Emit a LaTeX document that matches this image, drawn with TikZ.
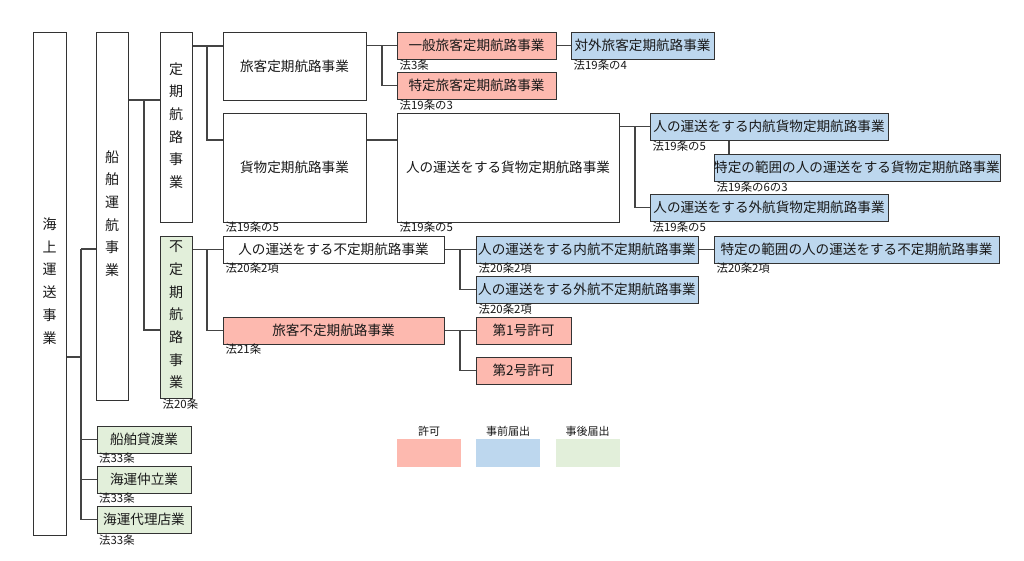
\documentclass[tikz,border=0pt]{standalone}
\usepackage{fontspec}
\setmainfont{Noto Sans CJK JP}
\definecolor{kyoka}{HTML}{FDB9AF}
\definecolor{jizen}{HTML}{BDD7EE}
\definecolor{jigo}{HTML}{E2EFDA}
\definecolor{edge}{HTML}{333333}
\definecolor{wire}{HTML}{444444}
\begin{document}
\begin{tikzpicture}[x=1pt,y=-1pt,
  box/.style={draw=edge,line width=1pt,fill=white,inner sep=0pt,font=\fontsize{13.6}{16}\selectfont,text=black!90},
  bx/.style 2 args={box,minimum width=#1pt,minimum height=#2pt},
  vtext/.style={inner sep=0pt,align=center,font=\fontsize{14}{22.7}\selectfont,text=black!90},
  law/.style={anchor=west,inner sep=0pt,font=\fontsize{11.4}{12}\selectfont,text=black!90},
  conn/.style={draw=wire,line width=1.2pt},
  leg/.style={inner sep=0pt,font=\fontsize{11}{12}\selectfont,text=black!90}]
\useasboundingbox[fill=white] (0,0) rectangle (1024,560);

% left column boxes
\node[bx={33}{503}] (kaijo) at (49.5,283.5) {};
\node[vtext] (kaijoT) at (49.5,281) {海\\上\\運\\送\\事\\業};
\node[bx={32}{368}] (senpaku) at (112,216) {};
\node[vtext] (senpakuT) at (112,213.5) {船\\舶\\運\\航\\事\\業};
\node[bx={32}{190}] (teiki) at (176,127) {};
\node[vtext] (teikiT) at (176,125.5) {定\\期\\航\\路\\事\\業};
\node[bx={32}{162},fill=jigo] (futeiki) at (176,317) {};
\node[vtext] (futeikiT) at (176,315) {不\\定\\期\\航\\路\\事\\業};
\node[law] (lFuteiki) at (162.5,404) {法20条};

% regular routes
\node[bx={143}{68}] (ryokaku) at (294.5,66) {旅客定期航路事業};
\node[bx={143}{109}] (kamotsu) at (294.5,167.5) {貨物定期航路事業};
\node[law] (lKamotsu) at (225.5,227) {法19条の5};
\node[bx={159}{27},fill=kyoka] (ippan) at (476.5,45.5) {一般旅客定期航路事業};
\node[law] (lIppan) at (399.5,65) {法3条};
\node[bx={159}{27},fill=kyoka] (tokR) at (476.5,85.5) {特定旅客定期航路事業};
\node[law] (lTokR) at (399.5,105) {法19条の3};
\node[bx={143}{27},fill=jizen] (taigai) at (642.5,45.5) {対外旅客定期航路事業};
\node[law] (lTaigai) at (573.5,65) {法19条の4};
\node[bx={222}{109}] (hitoK) at (508,167.5) {人の運送をする貨物定期航路事業};
\node[law] (lHitoK) at (399.5,227) {法19条の5};
\node[bx={238}{27},fill=jizen] (naikoK) at (769,126.5) {人の運送をする内航貨物定期航路事業};
\node[law] (lNaikoK) at (652.5,146) {法19条の5};
\node[bx={286}{27},fill=jizen] (tokHK) at (857,167.5) {特定の範囲の人の運送をする貨物定期航路事業};
\node[law] (lTokHK) at (716.5,187) {法19条の6の3};
\node[bx={238}{27},fill=jizen] (gaikoK) at (769,207.5) {人の運送をする外航貨物定期航路事業};
\node[law] (lGaikoK) at (652.5,227) {法19条の5};

% irregular routes
\node[bx={221}{27}] (hitoF) at (333.5,249.5) {人の運送をする不定期航路事業};
\node[law] (lHitoF) at (225.5,268) {法20条2項};
\node[bx={222}{27},fill=jizen] (naikoF) at (587,249.5) {人の運送をする内航不定期航路事業};
\node[law] (lNaikoF) at (478.5,268) {法20条2項};
\node[bx={285}{27},fill=jizen] (tokHF) at (856.5,249.5) {特定の範囲の人の運送をする不定期航路事業};
\node[law] (lTokHF) at (716.5,268) {法20条2項};
\node[bx={222}{27},fill=jizen] (gaikoF) at (587,289.5) {人の運送をする外航不定期航路事業};
\node[law] (lGaikoF) at (478.5,309) {法20条2項};
\node[bx={221}{27},fill=kyoka] (ryoF) at (333.5,330.5) {旅客不定期航路事業};
\node[law] (lRyoF) at (225.5,349) {法21条};
\node[bx={95}{27},fill=kyoka] (dai1) at (523.5,330.5) {第1号許可};
\node[bx={95}{27},fill=kyoka] (dai2) at (523.5,370.5) {第2号許可};

% other businesses
\node[bx={94}{27},fill=jigo] (kasi) at (144,439.5) {船舶貸渡業};
\node[law] (lKasi) at (99,458) {法33条};
\node[bx={94}{27},fill=jigo] (naka) at (144,479.5) {海運仲立業};
\node[law] (lNaka) at (99,498) {法33条};
\node[bx={94}{27},fill=jigo] (dairi) at (144,519.5) {海運代理店業};
\node[law] (lDairi) at (99,540) {法33条};

% legend
\node[fill=kyoka,minimum width=64pt,minimum height=28pt,inner sep=0pt] (legK) at (429,452.5) {};
\node[fill=jizen,minimum width=64pt,minimum height=28pt,inner sep=0pt] (legZ) at (508,452.5) {};
\node[fill=jigo,minimum width=64pt,minimum height=28pt,inner sep=0pt] (legG) at (587.5,452.5) {};
\node[leg] (legKT) at (429,431.5) {許可};
\node[leg] (legZT) at (508,431.5) {事前届出};
\node[leg] (legGT) at (587.5,431.5) {事後届出};

% connectors
\coordinate (kA) at (81,357);
\coordinate (k1) at (81,249);
\draw[conn] (kaijo.east |- kA) -- (kA);
\draw[conn] (k1) -- (senpaku.west |- k1);
\draw[conn] (k1) |- (dairi.west);
\draw[conn] (k1 |- kasi.west) -- (kasi.west);
\draw[conn] (k1 |- naka.west) -- (naka.west);

\coordinate (s1) at (144,100);
\coordinate (s2) at (144,330);
\draw[conn] (senpaku.east |- s1) -- (teiki.west |- s1);
\draw[conn] (s1) -- (s2) -- (futeiki.west |- s2);

\coordinate (t1) at (207,46);
\coordinate (t2) at (207,140);
\draw[conn] (teiki.east |- t1) -- (ryokaku.west |- t1);
\draw[conn] (t1) |- (kamotsu.west |- t2);

\coordinate (f1) at (207,249.5);
\draw[conn] (futeiki.east |- f1) -- (hitoF.west);
\draw[conn] (f1) |- (ryoF.west);

\coordinate (r1) at (382,45.5);
\draw[conn] (ryokaku.east |- r1) -- (ippan.west);
\draw[conn] (r1) |- (tokR.west);
\draw[conn] (ippan.east) -- (taigai.west);

\coordinate (c1) at (380,140);
\draw[conn] (kamotsu.east |- c1) -- (hitoK.west |- c1);

\coordinate (h1) at (635,126.5);
\draw[conn] (hitoK.east |- h1) -- (naikoK.west);
\draw[conn] (h1) |- (gaikoK.west);
\coordinate (n1) at (729,150);
\draw[conn] (naikoK.south -| n1) -- (tokHK.north -| n1);

\coordinate (p1) at (460,249.5);
\draw[conn] (hitoF.east) -- (naikoF.west);
\draw[conn] (p1) |- (gaikoF.west);
\draw[conn] (naikoF.east) -- (tokHF.west);

\coordinate (q1) at (460,330.5);
\draw[conn] (ryoF.east) -- (dai1.west);
\draw[conn] (q1) |- (dai2.west);
\end{tikzpicture}
\end{document}
